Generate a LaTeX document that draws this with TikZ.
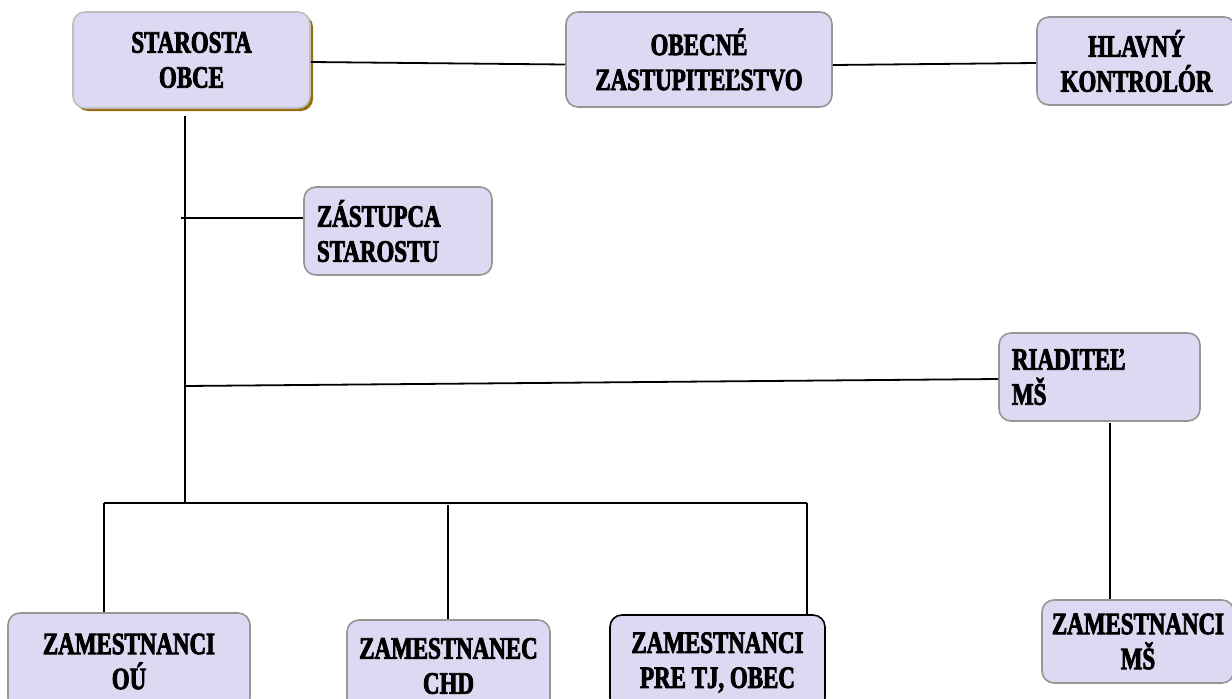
\documentclass[tikz,border=0pt]{standalone}
\usepackage{fontspec}
\newfontfamily\stenc[FakeStretch=0.74,FakeBold=2.6]{Liberation Serif}
\usetikzlibrary{calc}
\definecolor{boxfill}{RGB}{220,217,242}
\definecolor{boxline}{RGB}{150,150,150}
\definecolor{goldshadow}{RGB}{150,110,20}
\tikzset{
  orgbox/.style={draw=boxline,line width=1.6pt,fill=boxfill,rounded corners=12pt,
    inner sep=0pt,font=\stenc\bfseries\fontsize{31}{35}\selectfont,text=black},
  conn/.style={line width=1.8pt,draw=black},
}
\begin{document}
\begin{tikzpicture}[x=1pt,y=-1pt]
\useasboundingbox (0,0) rectangle (1232,699);
\clip (0,0) rectangle (1232,699);
% shadow of Starosta
\fill[goldshadow,rounded corners=12pt] (76,15) rectangle (313,111);
\node[orgbox,draw=black!25,minimum width=237pt,minimum height=96pt,align=center] (star) at (191.5,60) {STAROSTA\\OBCE};
\node[orgbox,minimum width=266pt,minimum height=95pt,align=center] (obec) at (699,59.5) {OBECNÉ\\ZASTUPITEĽSTVO};
\node[orgbox,minimum width=199pt,minimum height=88pt,align=center] (hlav) at (1136.5,61) {HLAVNÝ\\KONTROLÓR};
\node[orgbox,minimum width=188pt,minimum height=88pt,align=left,text width=162pt] (zast) at (398,231) {ZÁSTUPCA\\STAROSTU};
\node[orgbox,minimum width=201pt,minimum height=88pt,align=left,text width=175pt] (riad) at (1099.5,377) {RIADITEĽ\\MŠ};
\node[orgbox,minimum width=242pt,minimum height=97pt,align=center] (ou) at (129,661.5) {ZAMESTNANCI\\OÚ};
\node[orgbox,minimum width=203pt,minimum height=92pt,align=center] (chd) at (448.5,666) {ZAMESTNANEC\\CHD};
\node[orgbox,draw=black,minimum width=215pt,minimum height=95pt,align=center] (tj) at (717.5,662.5) {ZAMESTNANCI\\PRE TJ, OBEC};
\node[orgbox,minimum width=192pt,minimum height=83pt,align=center] (ms) at (1138,641.5) {ZAMESTNANCI\\MŠ};
% connectors
\draw[conn] ($(star.east)+(0,2)$) -- ($(obec.west)+(0,5)$);
\draw[conn] ($(obec.east)+(0,5.5)$) -- ($(hlav.west)+(0,2)$);
\coordinate (trunkTop) at (185,116);
\coordinate (trunkBot) at (185,504);
\draw[conn] (trunkTop) -- (trunkBot);
\coordinate (zj) at (181,218);
\draw[conn] (zj) -- (zj -| zast.west);
\coordinate (rj) at (185,386);
\draw[conn] (rj) -- ($(riad.west)+(0,2)$);
\coordinate (b1) at (104,503);
\coordinate (b3) at (807,503);
\draw[conn] (b1) -- (b3);
\draw[conn] (b1) -- (b1 |- ou.north);
\coordinate (b2) at (448,505);
\draw[conn] (b2) -- (b2 |- chd.north);
\draw[conn] (b3) -- (b3 |- tj.north);
\coordinate (mj) at (1110,423);
\draw[conn] (mj) -- (mj |- ms.north);
\end{tikzpicture}
\end{document}
